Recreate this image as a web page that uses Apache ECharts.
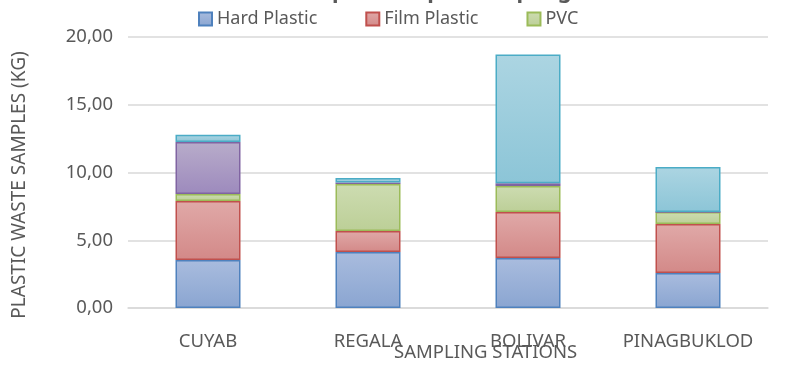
<!DOCTYPE html>
<html>
<head>
<meta charset="utf-8">
<script src="https://cdn.jsdelivr.net/npm/echarts@6/dist/echarts.min.js"></script>
<style>
html, body { margin: 0; padding: 0; background: #fff; }
#chart { width: 788px; height: 371px; }
</style>
</head>
<body>
<div id="chart"></div>
<script>
// stations on the x axis
const stations = ['CUYAB', 'REGALA', 'BOLIVAR', 'PINAGBUKLOD'];

// kg per plastic type, stacked bottom to top
const hardPlastic = [3.55, 4.13, 3.69, 2.58];
const filmPlastic = [4.35, 1.55, 3.39, 3.62];
const pvc = [0.52, 3.47, 1.92, 0.89];
const styrofoam = [3.84, 0.12, 0.20, 0];
const others = [0.52, 0.32, 9.50, 3.32];

const yTicks = [0, 5, 10, 15, 20];

const FONT = "'Noto Sans', sans-serif";
const GRAY = '#595959';

function grad(top, bottom) {
    return new echarts.graphic.LinearGradient(0, 0, 0, 1, [
        { offset: 0, color: top },
        { offset: 1, color: bottom }
    ]);
}

function makeSeries(name, data, top, bottom, border) {
    return {
        name: name,
        type: 'bar',
        stack: 'waste',
        barWidth: 65,
        data: data,
        itemStyle: {
            color: grad(top, bottom),
            borderColor: border,
            borderWidth: 1.5
        },
        emphasis: { disabled: true }
    };
}

const myChart = echarts.init(document.getElementById('chart'));
const option = {
    animation: false,
    textStyle: { fontFamily: FONT },
    title: {
        text: 'Plastic Waste Composition per Sampling Station',
        left: 'center',
        top: -24,
        textStyle: { fontFamily: FONT, fontSize: 22, fontWeight: 'bold', color: GRAY }
    },
    legend: {
        data: ['Hard Plastic', 'Film Plastic', 'PVC'],
        left: 193,
        top: 5,
        itemWidth: 13,
        itemHeight: 13,
        itemGap: 48,
        icon: 'rect',
        textStyle: { fontFamily: FONT, fontSize: 18, color: GRAY }
    },
    grid: {
        left: 128,
        right: 20,
        top: 37,
        bottom: 63
    },
    xAxis: {
        type: 'category',
        data: stations,
        axisLine: { show: true, lineStyle: { color: '#d9d9d9', width: 1.5 } },
        axisTick: { show: false },
        axisLabel: { fontFamily: FONT, fontSize: 18.5, color: GRAY, margin: 24, interval: 0 }
    },
    yAxis: {
        type: 'value',
        min: yTicks[0],
        max: yTicks[yTicks.length - 1],
        interval: 5,
        axisLine: { show: false },
        axisTick: { show: false },
        splitLine: { lineStyle: { color: '#d9d9d9', width: 1.5 } },
        axisLabel: {
            fontFamily: FONT, fontSize: 18.5, color: GRAY, margin: 15,
            formatter: v => v.toFixed(2).replace('.', ',')
        }
    },
    graphic: [{
        type: 'text',
        left: 394,
        top: 343,
        style: { text: 'SAMPLING STATIONS', font: '18.5px ' + FONT, fill: GRAY }
    }, {
        type: 'text',
        x: 20,
        y: 185,
        rotation: Math.PI / 2,
        style: {
            text: 'PLASTIC WASTE SAMPLES (KG)', font: '19px ' + FONT, fill: GRAY,
            align: 'center', verticalAlign: 'middle'
        }
    }],
    series: [
        makeSeries('Hard Plastic', hardPlastic, '#a9bcde', '#8aa5d1', '#4f81bd'),
        makeSeries('Film Plastic', filmPlastic, '#e0a9a8', '#d38988', '#c0504d'),
        makeSeries('PVC', pvc, '#cddcb1', '#bccf97', '#9bbb59'),
        makeSeries('Styrofoam', styrofoam, '#b8acca', '#9d8abd', '#8064a2'),
        makeSeries('Others', others, '#acd5e2', '#8cc5d7', '#4bacc6')
    ]
};
myChart.setOption(option);
window.addEventListener('resize', function () {
    myChart.resize();
});
</script>
</body>
</html>
